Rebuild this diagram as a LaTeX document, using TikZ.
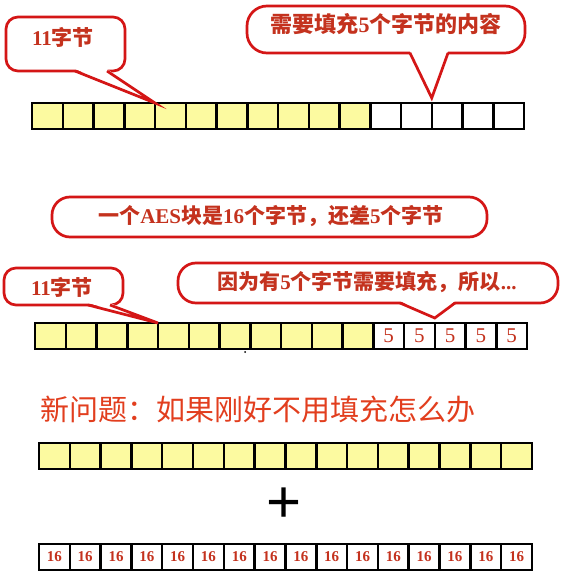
\documentclass[tikz,border=0pt]{standalone}
\usepackage{fontspec}
\setmainfont{Liberation Serif}
\newfontfamily\cjk{Noto Sans CJK SC}
\newfontfamily\plusfont{Liberation Sans}
\newcommand{\zh}[1]{{\cjk #1}}
\definecolor{cellyellow}{RGB}{252,250,160}
\definecolor{bubred}{RGB}{212,22,22}
\definecolor{txtred}{RGB}{196,50,30}
\definecolor{titred}{RGB}{226,62,30}
\begin{document}
\begin{tikzpicture}[x=1pt,y=-1pt,
  cell/.style={draw=black, line width=2.5pt, minimum width=30.75pt, minimum height=26pt,
    inner sep=0pt, outer sep=0pt, anchor=north west},
  wcell/.style={cell, minimum width=30.81pt},
  yel/.style={fill=cellyellow},
  five/.style={text=txtred, font={\fontsize{21pt}{21pt}\selectfont}},
  sixteen/.style={text=txtred, font={\bfseries\fontsize{15pt}{15pt}\selectfont}},
  bubble/.style={draw=bubred, line width=2.7pt, fill=white, outer sep=0pt, inner sep=0pt},
  tail/.style={draw=bubred, line width=2.7pt, line join=miter},
  bubtext/.style={text=txtred, inner sep=0pt, font={\bfseries\fontsize{21pt}{21pt}\selectfont}},
]
\useasboundingbox[fill=white] (0,0) rectangle (565,583);

% ---- row 1
\foreach \i in {1,...,11} \node[cell,yel] (r1c\i) at ({32+(\i-1)*30.75},103) {};
\foreach \i in {12,...,16} \node[cell] (r1c\i) at ({32+(\i-1)*30.75},103) {};

% ---- row 2
\foreach \i in {1,...,11} \node[cell,yel] (r2c\i) at ({35+(\i-1)*30.75},323) {};
\foreach \i in {12,...,16} \node[cell,five] (r2c\i) at ({35+(\i-1)*30.75},323) {5};
\node[fill=black, circle, inner sep=0pt, minimum size=2pt] (speck) at (245,352) {};

% ---- row 3
\foreach \i in {1,...,16} \node[wcell,yel] (r3c\i) at ({39+(\i-1)*30.81},443) {};

% ---- plus
\node[inner sep=0pt, font={\plusfont\fontsize{60pt}{60pt}\selectfont}] (plus) at (284,505) {+};

% ---- row 4
\foreach \i in {1,...,16} \node[wcell,sixteen] (r4c\i) at ({39+(\i-1)*30.81},544) {16};

% ---- title
\node[anchor=west, inner sep=0pt, text=titred, font={\cjk\fontsize{29pt}{29pt}\selectfont}] (title) at (40,409)
  {新问题：如果刚好不用填充怎么办};

% ---- bubble 1
\coordinate (t1) at (r1c4.north east);
\node[bubble, rounded corners=12pt, minimum width=119pt, minimum height=54pt] (b1) at (65.5,44) {};
\fill[white] ([xshift=69pt,yshift=2pt]b1.south west) -- (t1) -- ([xshift=101pt,yshift=2pt]b1.south west) -- cycle;
\draw[tail] ([xshift=69pt]b1.south west) -- (t1) -- ([xshift=101pt]b1.south west);
\node[bubtext] (b1t) at (63,37) {11\zh{字节}};

% ---- bubble 2
\coordinate (t2) at ([yshift=5pt]r1c13.north east);
\node[bubble, rounded corners=20pt, minimum width=278pt, minimum height=47pt] (b2) at (386,29.5) {};
\fill[white] ([xshift=163pt,yshift=2pt]b2.south west) -- (t2) -- ([xshift=201pt,yshift=2pt]b2.south west) -- cycle;
\draw[tail] ([xshift=163pt]b2.south west) -- (t2) -- ([xshift=201pt]b2.south west);
\node[bubtext, font={\bfseries\fontsize{22pt}{22pt}\selectfont}] (b2t) at (386,24) {\zh{需要填充}5\zh{个字节的内容}};

% ---- bubble 3
\node[bubble, rounded corners=18pt, minimum width=435pt, minimum height=40pt] (b3) at (269.5,217) {};
\node[bubtext] (b3t) at (271,216) {\zh{一个}AES\zh{块是}16\zh{个字节，还差}5\zh{个字节}};

% ---- bubble 4
\coordinate (t4) at (r2c4.north east);
\node[bubble, rounded corners=12pt, minimum width=119pt, minimum height=37pt] (b4) at (63.5,286.5) {};
\fill[white] ([xshift=84pt,yshift=2pt]b4.south west) -- (t4) -- ([xshift=106pt,yshift=2pt]b4.south west) -- cycle;
\draw[tail] ([xshift=84pt]b4.south west) -- (t4) -- ([xshift=106pt]b4.south west);
\node[bubtext] (b4t) at (62,287) {11\zh{字节}};

% ---- bubble 5
\coordinate (t5) at ([yshift=5pt]r2c13.north east);
\node[bubble, rounded corners=18pt, minimum width=380pt, minimum height=40pt] (b5) at (368,283) {};
\fill[white] ([xshift=222pt,yshift=2pt]b5.south west) -- (t5) -- ([xshift=277pt,yshift=2pt]b5.south west) -- cycle;
\draw[tail] ([xshift=222pt]b5.south west) -- (t5) -- ([xshift=277pt]b5.south west);
\node[bubtext] (b5t) at (367,282) {\zh{因为有}5\zh{个字节需要填充，所以}...};
\end{tikzpicture}
\end{document}
